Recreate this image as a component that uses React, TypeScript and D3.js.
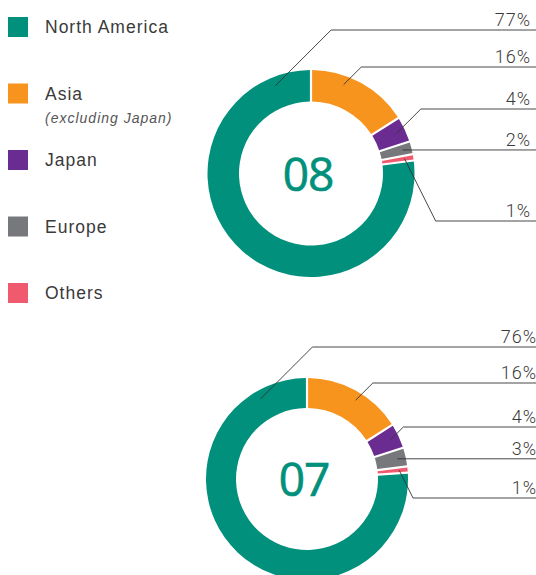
import React from "react";
import * as d3 from "d3";

const regions = ["North America", "Asia", "Japan", "Europe", "Others"];
const regionNotes = ["", "(excluding Japan)", "", "", ""];
const colors = ["#00907B", "#F7941D", "#6A2C91", "#77787B", "#EF5A6E"];
const years = ["08", "07"];
const shares08 = [77, 16, 4, 2, 1];
const shares07 = [76, 16, 4, 3, 1];
// clockwise drawing order from 12 o'clock (indices into regions)
const pieOrder = [1, 2, 3, 4, 0];

// layout
const charts = [
  {
    year: years[0], shares: shares08, cx: 311, cy: 173.5, outer: 103.5, inner: 72,
    labelDy: [-143.5, -106.5, -64.5, null, 47.5], anchorFrac: [0.92, 0.35, 0.5, 0.5, 0.5],
    textX: 531,
  },
  {
    year: years[1], shares: shares07, cx: 307, cy: 479, outer: 101, inner: 71,
    labelDy: [-132, -96, -52, null, 19], anchorFrac: [0.89, 0.55, 0.5, 0.5, 0.5],
    textX: 537,
  },
];

const FONT = "Roboto, 'Liberation Sans', Arial, sans-serif";
const SANS = "'Liberation Sans', Arial, sans-serif";

function Donut({ c }: { c: any }) {
  const data = pieOrder.map((i) => ({ i, v: c.shares[i] }));
  const pie = d3.pie<any>().sort(null).value((d) => d.v);
  const arcs = pie(data);
  const arc = d3
    .arc<any>()
    .innerRadius(c.inner)
    .outerRadius(c.outer)
    .padAngle(0.022)
    .padRadius(100);
  const anchorR = c.inner + 0.72 * (c.outer - c.inner);
  return (
    <g>
      <g transform={`translate(${c.cx},${c.cy})`}>
        {arcs.map((a) => (
          <path key={a.data.i} d={arc(a) as string} fill={colors[a.data.i]} />
        ))}
        <text
          x={-3}
          y={0}
          dy="0.37em"
          textAnchor="middle"
          fill={colors[0]}
          stroke={colors[0]}
          strokeWidth={0.7}
          fontFamily="'Open Sans', Roboto, sans-serif"
          fontWeight={400}
          fontSize={46}
          letterSpacing={-1}
        >
          {c.year}
        </text>
      </g>
      {arcs.map((a) => {
        const i = a.data.i;
        const ang = a.startAngle + c.anchorFrac[i] * (a.endAngle - a.startAngle);
        const ax = c.cx + anchorR * Math.sin(ang);
        const ay = c.cy - anchorR * Math.cos(ang);
        const ly = c.labelDy[i] == null ? ay : c.cy + c.labelDy[i];
        let ex = ax;
        if (ly < ay) ex = ax + (ay - ly);
        else if (ly > ay) ex = ax + (ly - ay) * 0.5;
        return (
          <g key={"l" + i}>
            <polyline
              points={`${ax},${ay} ${ex},${ly} 536,${ly}`}
              fill="none"
              stroke="#333"
              strokeWidth={0.9}
            />
            <text
              x={c.textX}
              y={ly - 4}
              textAnchor="end"
              fill="#3a3a3a"
              fontFamily={FONT}
              fontWeight={300}
              fontSize={18}
              letterSpacing={1}
            >
              {c.shares[i]}%
            </text>
          </g>
        );
      })}
    </g>
  );
}

export default function App() {
  const legendY0 = 17;
  const legendStep = 66.5;
  return (
    <svg
      width={536}
      height={575}
      style={{ position: "absolute", left: 0, top: 0, display: "block" }}
    >
      <rect width={536} height={575} fill="#fff" />
      {regions.map((r, i) => (
        <g key={r} transform={`translate(0,${legendY0 + i * legendStep})`}>
          <rect x={8} y={0} width={20} height={20} fill={colors[i]} />
          <text
            x={45}
            y={16}
            fill="#3a3a3a"
            fontFamily={SANS}
            fontSize={17.5}
            letterSpacing={1}
          >
            {r}
          </text>
          {regionNotes[i] && (
            <text
              x={45}
              y={39}
              fill="#555"
              fontFamily={SANS}
              fontStyle="italic"
              fontSize={14}
              letterSpacing={1}
            >
              {regionNotes[i]}
            </text>
          )}
        </g>
      ))}
      {charts.map((c) => (
        <Donut key={c.year} c={c} />
      ))}
    </svg>
  );
}
